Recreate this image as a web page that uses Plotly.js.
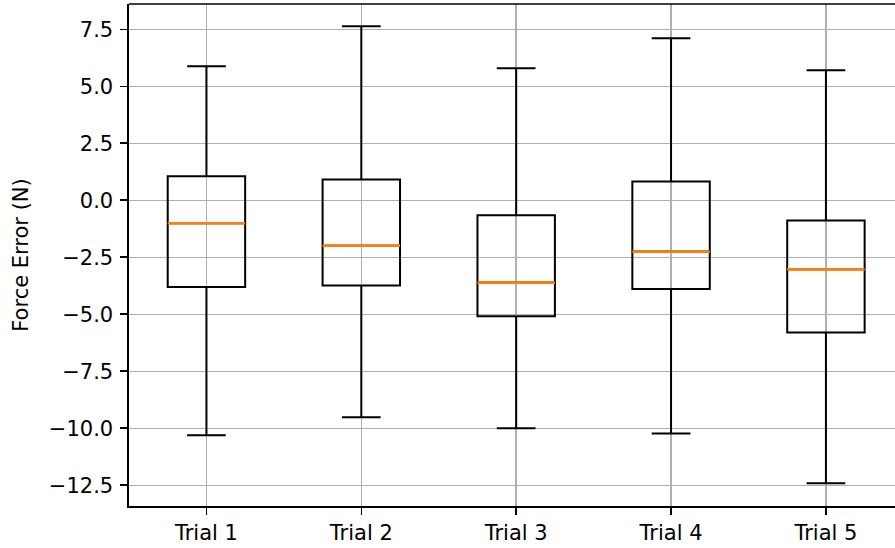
<!DOCTYPE html>
<html>
<head>
<meta charset="utf-8">
<script src="https://cdn.plot.ly/plotly-3.0.1.min.js"></script>
<style>html,body{margin:0;padding:0;background:#fff;}#chart{width:895px;height:548px;}</style>
</head>
<body>
<div id="chart"></div>
<script>
// Data
const trialPositions = [1, 2, 3, 4, 5];
const trialLabels = ["Trial 1", "Trial 2", "Trial 3", "Trial 4", "Trial 5"];
const lowerWhisker = [-10.31, -9.52, -10.0, -10.23, -12.41];
const q1Values = [-3.80, -3.74, -5.09, -3.89, -5.80];
const medianValues = [-1.01, -1.99, -3.61, -2.25, -3.03];
const q3Values = [1.05, 0.91, -0.66, 0.82, -0.89];
const upperWhisker = [5.88, 7.63, 5.79, 7.11, 5.70];
const yTickVals = [7.5, 5.0, 2.5, 0.0, -2.5, -5.0, -7.5, -10.0, -12.5];
const yTickText = ["7.5", "5.0", "2.5", "0.0", "\u22122.5", "\u22125.0", "\u22127.5", "\u221210.0", "\u221212.5"];

const boxTrace = {
  type: 'box',
  x: trialPositions,
  q1: q1Values,
  median: medianValues,
  q3: q3Values,
  lowerfence: lowerWhisker,
  upperfence: upperWhisker,
  width: 0.5,
  whiskerwidth: 0.5,
  boxpoints: false,
  line: {color: '#000000', width: 2},
  fillcolor: 'rgba(0,0,0,0)',
  hoverinfo: 'skip',
  showlegend: false
};
const medianTrace = {
  type: 'box',
  x: trialPositions,
  q1: medianValues,
  median: medianValues,
  q3: medianValues,
  lowerfence: medianValues,
  upperfence: medianValues,
  width: 0.5,
  whiskerwidth: 0,
  boxpoints: false,
  line: {color: '#ff7f0e', width: 2.6},
  fillcolor: 'rgba(0,0,0,0)',
  hoverinfo: 'skip',
  showlegend: false
};

const font = {family: 'DejaVu Sans, sans-serif', size: 21, color: '#000'};
const layout = {
  width: 895, height: 548,
  margin: {l: 129, r: 0, t: 4, b: 42, pad: 0},
  paper_bgcolor: '#fff', plot_bgcolor: '#fff',
  font: font,
  boxmode: 'overlay',
  showlegend: false,
  xaxis: {
    range: [0.5, 5.446],
    tickvals: trialPositions,
    ticktext: trialLabels,
    showgrid: true, gridcolor: '#b0b0b0', gridwidth: 1.5,
    zeroline: false,
    showline: true, linecolor: '#000', linewidth: 1.6,
    ticks: 'outside', ticklen: 7, tickwidth: 1.6, tickcolor: '#000',
    tickfont: font,
    fixedrange: true
  },
  yaxis: {
    range: [-13.41, 8.61],
    tickvals: yTickVals,
    ticktext: yTickText,
    showgrid: true, gridcolor: '#b0b0b0', gridwidth: 1.5,
    zeroline: false,
    showline: true, linecolor: '#000', linewidth: 1.6,
    ticks: 'outside', ticklen: 7, tickwidth: 1.6, tickcolor: '#000',
    ticklabelstandoff: 3,
    tickfont: font,
    title: {text: 'Force Error (N)', font: font, standoff: 14},
    automargin: false,
    fixedrange: true
  },
  shapes: [{
    type: 'line', xref: 'paper', yref: 'paper', x0: 0, x1: 1, y0: 1, y1: 1,
    line: {color: '#000', width: 1.6}
  }]
};
Plotly.newPlot('chart', [boxTrace, medianTrace], layout, {displayModeBar: false, staticPlot: true});
</script>
</body>
</html>
